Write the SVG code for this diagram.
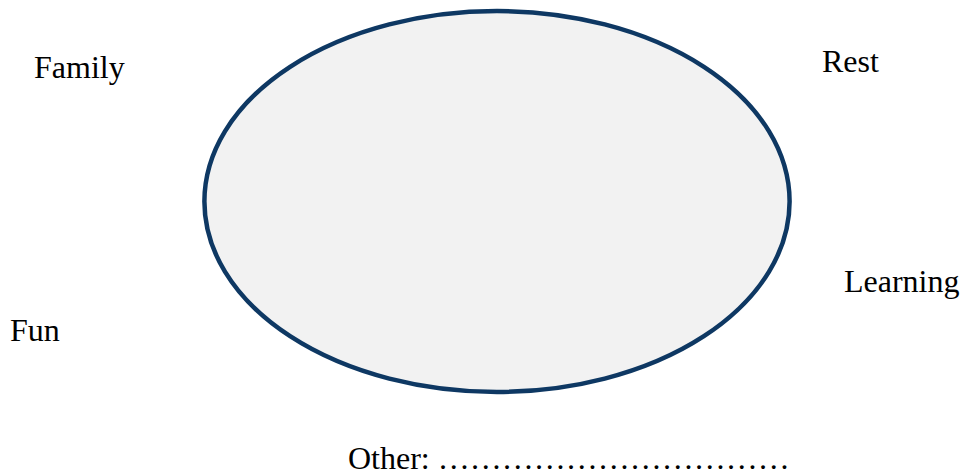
<svg xmlns="http://www.w3.org/2000/svg" width="963" height="475" viewBox="0 0 963 475">
<style>
.lbl{font-family:"Liberation Serif","Times New Roman",serif;font-size:32px;fill:#000}
</style>
<rect width="963" height="475" fill="#fff"/>
<g id="circle">
<ellipse cx="497" cy="201.5" rx="292.6" ry="190.5" fill="#f2f2f2" stroke="#0e3863" stroke-width="4.5"/>
</g>
<g id="family"><text class="lbl" x="34" y="78">Family</text></g>
<g id="rest"><text class="lbl" x="822" y="72">Rest</text></g>
<g id="learning"><text class="lbl" x="844" y="292">Learning</text></g>
<g id="fun"><text class="lbl" x="10" y="341">Fun</text></g>
<g id="other"><text class="lbl" x="348" y="469">Other: &#8230;&#8230;&#8230;&#8230;&#8230;&#8230;&#8230;&#8230;&#8230;&#8230;&#8230;</text></g>
<g id="connectors"></g>
</svg>
